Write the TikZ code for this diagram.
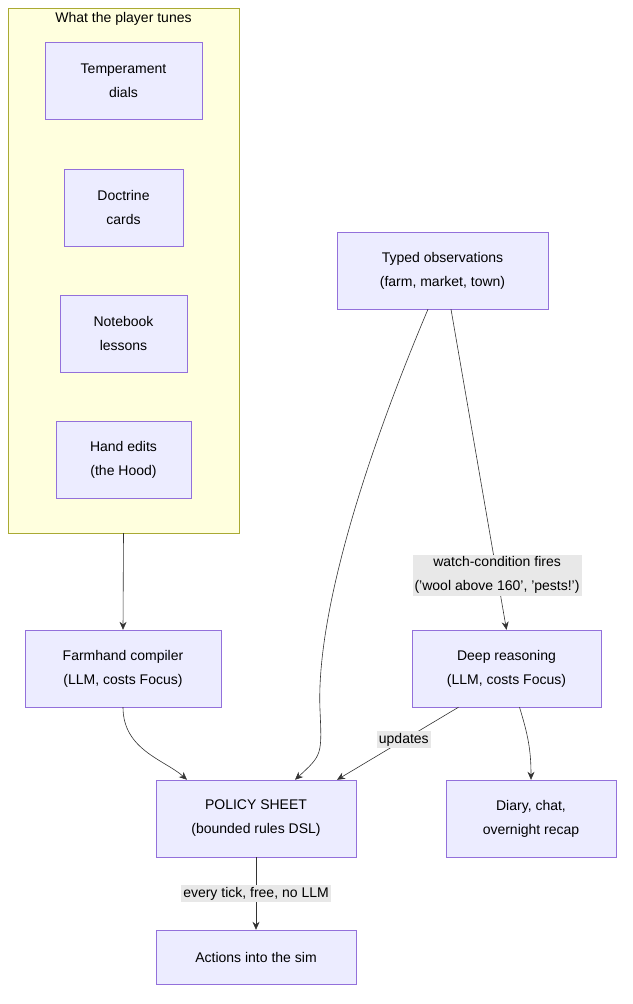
\documentclass[tikz,border=0pt]{standalone}
\usepackage{fontspec}
\setmainfont{Liberation Sans}
\usetikzlibrary{positioning,arrows.meta}
\definecolor{boxfill}{HTML}{ECECFF}
\definecolor{boxline}{HTML}{9370DB}
\definecolor{groupfill}{HTML}{FFFFDE}
\definecolor{groupline}{HTML}{AAAA33}
\definecolor{edgecol}{HTML}{333333}
\definecolor{labelfill}{HTML}{E8E8E8}
\tikzset{
	flow box/.style={
		draw=boxline, fill=boxfill, align=center,
		minimum height=77pt, inner sep=0pt, font=\fontsize{14}{24}\selectfont
	},
	flow edge/.style={
		draw=edgecol, semithick, -{Stealth[length=8pt,width=7pt]}
	},
	edge label/.style={
		fill=labelfill, align=center, inner sep=2pt, font=\fontsize{14}{24}\selectfont
	}
}
\begin{document}
\begin{tikzpicture}[x=1pt,y=-1pt]
	\useasboundingbox (0,0) rectangle (632,1004);
	% player group
	\node[draw=groupline, fill=groupfill, minimum width=231pt, minimum height=525pt, inner sep=0pt] (G) at (123.5,270.5) {};
	\node[anchor=north, font=\fontsize{14}{24}\selectfont] (Gt) at ([yshift=-1pt]G.north) {What the player tunes};
	
	\node[flow box, minimum width=157pt] (temp) at (123.5,80.5) {Temperament\\dials};
	\node[flow box, minimum width=119pt] (doct) at (123.5,207.5) {Doctrine\\cards};
	\node[flow box, minimum width=127pt] (note) at (123.5,333.5) {Notebook\\lessons};
	\node[flow box, minimum width=135pt] (hand) at (123.5,459.5) {Hand edits\\(the Hood)};
	
	\node[flow box, minimum width=211pt] (obs) at (442.5,270.5) {Typed observations\\(farm, market, town)};
	\node[flow box, minimum width=196pt] (farm) at (123,668.5) {Farmhand compiler\\(LLM, costs Focus)};
	\node[flow box, minimum width=189pt] (deep) at (506.5,668.5) {Deep reasoning\\(LLM, costs Focus)};
	\node[flow box, minimum width=200pt] (policy) at (256,818.5) {POLICY SHEET\\(bounded rules DSL)};
	\node[flow box, minimum width=170pt] (diary) at (531,818.5) {Diary, chat,\\overnight recap};
	\node[flow box, minimum width=200pt, minimum height=54pt] (act) at (256,957) {Actions into the sim};
	
	% connectors
	\draw[flow edge] (G.south) -- (farm.north);
	\draw[flow edge] ([xshift=-14.5pt]obs.south) .. controls (360,470) and (316,620) .. (320,710) .. controls (322,755) .. ([xshift=39pt]policy.north);
	\draw[flow edge] ([xshift=8.5pt]obs.south) -- node[edge label, pos=0.83] (watch) {watch-condition fires\\('wool above 160', 'pests!')} (deep.north);
	\draw[flow edge] (farm.south) .. controls (123,750) and (165,760) .. ([xshift=-69pt]policy.north);
	\draw[flow edge] ([xshift=-48pt]deep.south) -- node[edge label, pos=0.45] (upd) {updates} ([xshift=81pt]policy.north);
	\draw[flow edge] ([xshift=13pt]deep.south) .. controls (528,735) and (531,750) .. (diary.north);
	\draw[flow edge] (policy.south) -- node[edge label] (tick) {every tick, free, no LLM} (act.north);
\end{tikzpicture}
\end{document}
